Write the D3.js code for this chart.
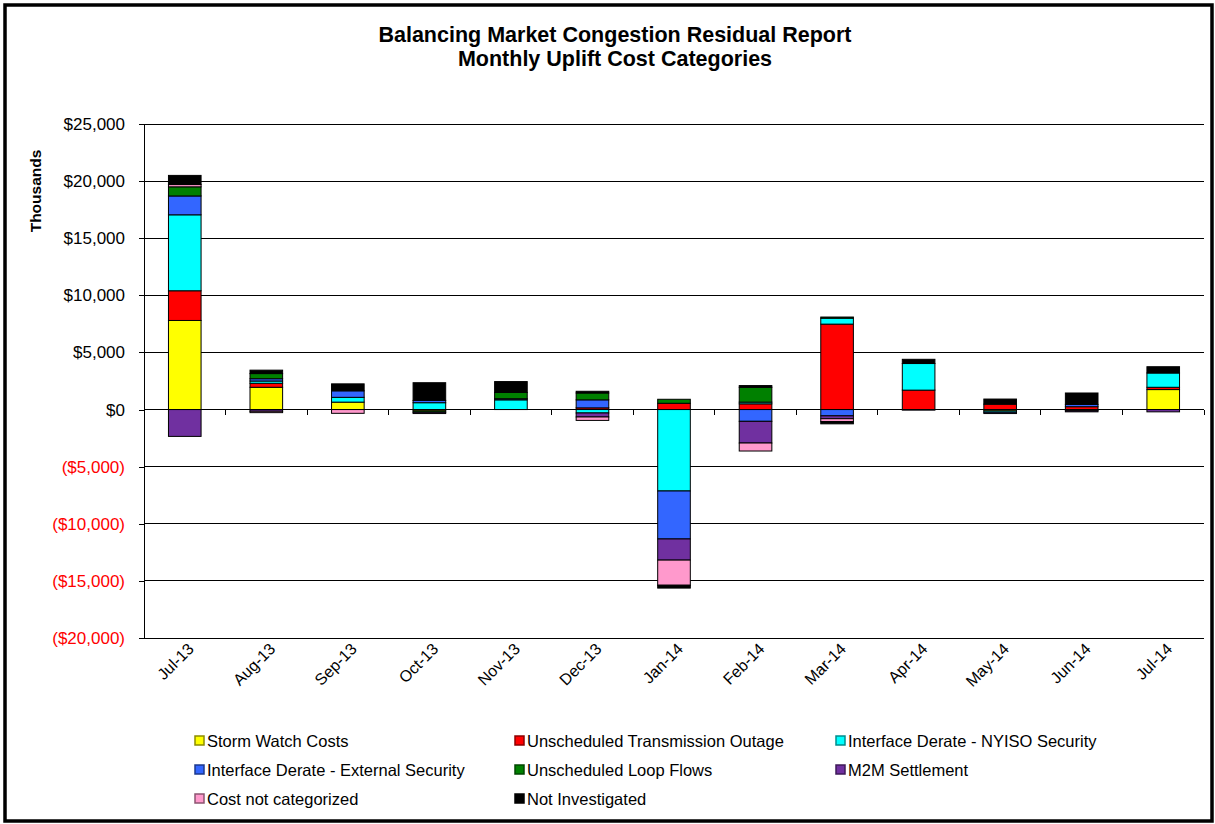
<!DOCTYPE html>
<html><head><meta charset="utf-8">
<script src="https://cdn.jsdelivr.net/npm/d3@7/dist/d3.min.js"></script>
<style>
html,body{margin:0;padding:0;background:#fff;}
svg{display:block;font-family:"Liberation Sans",Arial,sans-serif;}
</style></head>
<body><svg id="c" width="1215" height="824"></svg>
<script>
const months = ["Jul-13","Aug-13","Sep-13","Oct-13","Nov-13","Dec-13","Jan-14","Feb-14","Mar-14","Apr-14","May-14","Jun-14","Jul-14"];
const seriesNames = ["Storm Watch Costs","Unscheduled Transmission Outage","Interface Derate - NYISO Security","Interface Derate - External Security","Unscheduled Loop Flows","M2M Settlement","Cost not categorized","Not Investigated"];
// values in $ thousands
const stormWatch     = [7800, 1950,  650, -120,    0,    0,     0,     0,    0,    0, -120, -100, 1750];
const transOutage    = [2600,  350,    0,    0,    0,  150,   550,   500, 7480, 1700,  470,  250,  200];
const nyisoSecurity  = [6650,  200,  420,  600,  850, -300, -7130,   150,  520, 2330, -120,    0, 1250];
const externalSec    = [1650,  200,  570,  200,  100,  700, -4200, -1030, -550,    0, -110,  200,    0];
const loopFlows      = [ 800,  450,    0, -120,  550,  600,   350,  1300,  100,    0,    0,    0,    0];
const m2mSettlement  = [-2350,-150,    0, -110,    0, -350, -1850, -1900, -250,  -50,    0, -100, -200];
const notCategorized = [ 200,  -120, -330,   0,    0, -300, -2200,  -700, -250,    0,    0,    0,    0];
const notInvestigated= [ 800,  300,  610, 1550,  950,  150,  -250,   150, -200,  370,  450, 1000,  550];
const yTicks = [25000,20000,15000,10000,5000,0,-5000,-10000,-15000,-20000];
const colors = ["#FFFF00","#FF0000","#00FFFF","#3366FF","#008000","#7030A0","#FF99CC","#000000"];
const legendBorders = ["#8c8c00","#8c0000","#008c8c","#1c388c","#004600","#3e1a58","#8c5470","#000000"];

const seriesValues = [stormWatch,transOutage,nyisoSecurity,externalSec,loopFlows,m2mSettlement,notCategorized,notInvestigated];
const table = months.map((m,i)=>{const o={month:m}; seriesNames.forEach((s,j)=>o[s]=seriesValues[j][i]); return o;});

const svg = d3.select("#c");
const pLeft=144, pRight=1204, pTop=124, pBottom=638;

// outer frame
svg.append("rect").attr("x",5).attr("y",5).attr("width",1207).attr("height",816)
  .attr("fill","none").attr("stroke","#000").attr("stroke-width",3.5);

// title
svg.append("text").attr("x",615).attr("y",42).attr("text-anchor","middle")
  .attr("font-weight","bold").attr("font-size","21.5px").text("Balancing Market Congestion Residual Report");
svg.append("text").attr("x",615).attr("y",66).attr("text-anchor","middle")
  .attr("font-weight","bold").attr("font-size","21.5px").text("Monthly Uplift Cost Categories");

const x = d3.scaleBand().domain(months).range([pLeft,pRight]).paddingInner(0.6).paddingOuter(0.3);
const y = d3.scaleLinear().domain([-20000,25000]).range([pBottom,pTop]);

// gridlines
svg.append("g").selectAll("line").data(yTicks).join("line")
  .attr("x1",pLeft).attr("x2",pRight).attr("y1",d=>y(d)).attr("y2",d=>y(d))
  .attr("stroke","#000").attr("stroke-width",1).attr("shape-rendering","crispEdges");

// y axis
const yAxis = d3.axisLeft(y).tickValues(yTicks).tickSize(5).tickPadding(14)
  .tickFormat(d=> d<0 ? "($"+d3.format(",")(-d)+")" : "$"+d3.format(",")(d));
const ya = svg.append("g").attr("transform",`translate(${pLeft},0)`).call(yAxis);
ya.select(".domain").attr("stroke","#000").attr("shape-rendering","crispEdges");
ya.selectAll(".tick line").attr("stroke","#000").attr("shape-rendering","crispEdges");
ya.selectAll(".tick text").attr("font-size","17px").attr("font-family","Liberation Sans, Arial, sans-serif")
  .attr("fill",d=>d<0?"#FF0000":"#000");

svg.append("text").attr("transform","translate(41,191) rotate(-90)").attr("text-anchor","middle")
  .attr("font-weight","bold").attr("font-size","15.5px").text("Thousands");

// stacked bars
const stack = d3.stack().keys(seriesNames).offset(d3.stackOffsetDiverging);
const layers = stack(table);
svg.append("g").selectAll("g").data(layers).join("g")
  .attr("fill",(d,i)=>colors[i])
  .selectAll("rect").data(d=>d.filter(p=>p[1]!==p[0])).join("rect")
  .attr("x",d=>x(d.data.month)).attr("width",x.bandwidth())
  .attr("y",d=>y(Math.max(d[0],d[1]))).attr("height",d=>Math.abs(y(d[0])-y(d[1])))
  .attr("stroke","#000").attr("stroke-width",1);

// x axis at zero
const step = x.step();
const xa = svg.append("g");
xa.append("line").attr("x1",pLeft).attr("x2",pRight).attr("y1",y(0)).attr("y2",y(0))
  .attr("stroke","#000").attr("shape-rendering","crispEdges");
xa.selectAll("line.t").data(d3.range(months.length+1)).join("line").attr("class","t")
  .attr("x1",i=>pLeft+i*step).attr("x2",i=>pLeft+i*step).attr("y1",y(0)).attr("y2",y(0)+5)
  .attr("stroke","#000").attr("shape-rendering","crispEdges");

// category labels
svg.append("g").selectAll("text").data(months).join("text")
  .attr("transform",d=>`translate(${x(d)+x.bandwidth()/2+10},${pBottom+12}) rotate(-45)`)
  .attr("text-anchor","end").attr("font-size","16px").text(d=>d);

// legend
const legCols=[195,515,836], legRows=[741,770,799];
const lg = svg.append("g").selectAll("g").data(seriesNames).join("g")
  .attr("transform",(d,i)=>`translate(${legCols[i%3]},${legRows[Math.floor(i/3)]})`);
lg.append("rect").attr("x",0).attr("y",-5).attr("width",9).attr("height",9)
  .attr("fill",(d,i)=>colors[i]).attr("stroke",(d,i)=>legendBorders[i]).attr("stroke-width",1.5);
lg.append("text").attr("x",12).attr("y",6).attr("font-size","16.5px").text(d=>d);
</script></body></html>
